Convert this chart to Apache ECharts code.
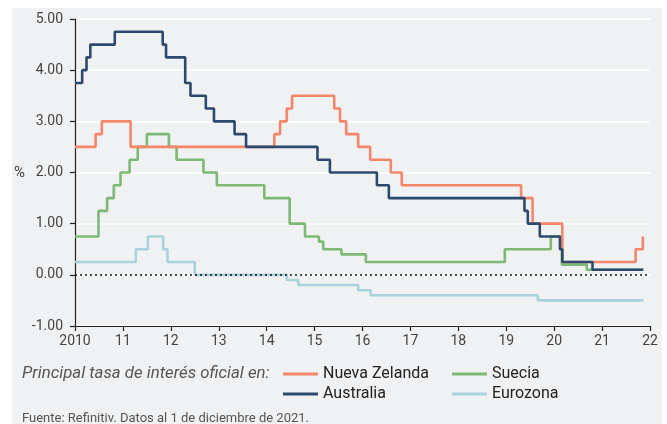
<!DOCTYPE html>
<html><head><meta charset="utf-8">
<script src="https://cdn.jsdelivr.net/npm/echarts@6/dist/echarts.min.js"></script>
<style>html,body{margin:0;padding:0;background:#fff}#c{width:667px;height:424px}</style>
</head><body><div id="c"></div>
<script>
// Change dates (decimal years) and policy rates (%)
const nzX = [2010, 2010.43, 2010.56, 2011.16, 2014.16, 2014.28, 2014.42, 2014.53, 2015.41, 2015.53, 2015.66, 2015.91, 2016.16, 2016.59, 2016.82, 2019.31, 2019.55, 2020.17, 2021.70, 2021.85];
const nzY = [2.50, 2.75, 3.00, 2.50, 2.75, 3.00, 3.25, 3.50, 3.25, 3.00, 2.75, 2.50, 2.25, 2.00, 1.75, 1.50, 1.00, 0.25, 0.50, 0.75];

const auX = [2010, 2010.15, 2010.24, 2010.32, 2010.83, 2011.83, 2011.90, 2012.30, 2012.41, 2012.73, 2012.90, 2013.33, 2013.57, 2015.06, 2015.32, 2016.30, 2016.55, 2019.38, 2019.45, 2019.70, 2020.12, 2020.17, 2020.80, 2021.86];
const auY = [3.75, 4.00, 4.25, 4.50, 4.75, 4.50, 4.25, 3.75, 3.50, 3.25, 3.00, 2.75, 2.50, 2.25, 2.00, 1.75, 1.50, 1.25, 1.00, 0.75, 0.50, 0.25, 0.10, 0.10];

const seX = [2010, 2010.49, 2010.67, 2010.81, 2010.95, 2011.14, 2011.31, 2011.50, 2011.96, 2012.12, 2012.68, 2012.96, 2013.95, 2014.48, 2014.80, 2015.09, 2015.18, 2015.56, 2016.07, 2018.97, 2019.93, 2020.16, 2020.68, 2021.86];
const seY = [0.75, 1.25, 1.50, 1.75, 2.00, 2.25, 2.50, 2.75, 2.50, 2.25, 2.00, 1.75, 1.50, 1.00, 0.75, 0.65, 0.50, 0.40, 0.25, 0.50, 0.75, 0.20, 0.10, 0.10];

const euX = [2010, 2011.27, 2011.52, 2011.84, 2011.93, 2012.50, 2014.42, 2014.66, 2015.91, 2016.17, 2019.66, 2021.86];
const euY = [0.25, 0.50, 0.75, 0.50, 0.25, 0.00, -0.10, -0.20, -0.30, -0.40, -0.50, -0.50];

const names = ['Nueva Zelanda', 'Suecia', 'Australia', 'Eurozona'];
const colors = { 'Nueva Zelanda': '#F4866A', 'Suecia': '#7DB974', 'Australia': '#2C4A6E', 'Eurozona': '#A9D2DD' };
const xTicks = ['2010','11','12','13','14','15','16','17','18','19','20','21','22'];
const prefix = 'Principal tasa de interés oficial en:';
const source = 'Fuente: Refinitiv. Datos al 1 de diciembre de 2021.';

const pairs = (xs, ys) => xs.map((x, i) => [x, ys[i]]);
const FONT = 'Roboto';

function mkSeries(name, data, z, extra) {
  return Object.assign({
    name, type: 'line', step: 'end', data, z, symbol: 'none',
    lineStyle: { color: colors[name], width: 2.6 }, itemStyle: { color: colors[name] },
    animation: false
  }, extra || {});
}

function mkLegend(name, left, top) {
  return {
    data: [name], left, top, icon: 'rect', itemWidth: 35, itemHeight: 3, itemGap: 0, padding: 0,
    textStyle: { fontFamily: FONT, fontSize: 16, color: '#222' },
    selectedMode: false
  };
}

const chart = echarts.init(document.getElementById('c'), null, { renderer: 'canvas' });
chart.setOption({
  animation: false,
  backgroundColor: '#ffffff',
  graphic: [
    { type: 'rect', shape: { x: 12, y: 8, width: 650, height: 420 }, style: { fill: '#F0F1F3' }, z: -10, silent: true },
    { type: 'text', left: 14, top: 166, style: { text: '%', font: '15px ' + FONT, fill: '#444' } },
    { type: 'text', left: 22, top: 365, style: { text: prefix, font: 'italic 16.8px ' + FONT, fill: '#555' } },
    { type: 'text', left: 22, top: 412, style: { text: source, font: '13px ' + FONT, fill: '#555' } }
  ],
  grid: { left: 75, right: 17, top: 19, bottom: 98 },
  legend: [
    mkLegend('Nueva Zelanda', 283, 366),
    mkLegend('Suecia', 452, 366),
    mkLegend('Australia', 283, 386),
    mkLegend('Eurozona', 452, 386)
  ],
  xAxis: {
    type: 'value', min: 2010, max: 2022, interval: 1,
    axisLine: { show: true, onZero: false, lineStyle: { color: '#222', width: 1.2 } },
    axisTick: { show: true, length: 5, lineStyle: { color: '#222', width: 1.2 } },
    axisLabel: { fontFamily: FONT, fontSize: 14, color: '#444', margin: 8,
      formatter: v => xTicks[Math.round(v - 2010)] },
    splitLine: { show: false }
  },
  yAxis: {
    type: 'value', min: -1, max: 5, interval: 1,
    axisLine: { show: true, onZero: false, lineStyle: { color: '#222', width: 1.2 } },
    axisTick: { show: true, length: 5, lineStyle: { color: '#222', width: 1.2 } },
    axisLabel: { fontFamily: FONT, fontSize: 14, color: '#444', margin: 12,
      formatter: v => v.toFixed(2) },
    splitLine: { show: true, lineStyle: { color: '#ffffff', width: 1.5 } }
  },
  series: [
    mkSeries('Eurozona', pairs(euX, euY), 2, {
      markLine: { silent: true, symbol: 'none', label: { show: false },
        lineStyle: { color: '#111', type: [2, 3], width: 1.6 }, data: [{ yAxis: 0 }] }
    }),
    mkSeries('Suecia', pairs(seX, seY), 3),
    mkSeries('Nueva Zelanda', pairs(nzX, nzY), 4),
    mkSeries('Australia', pairs(auX, auY), 5)
  ]
});
</script></body></html>
